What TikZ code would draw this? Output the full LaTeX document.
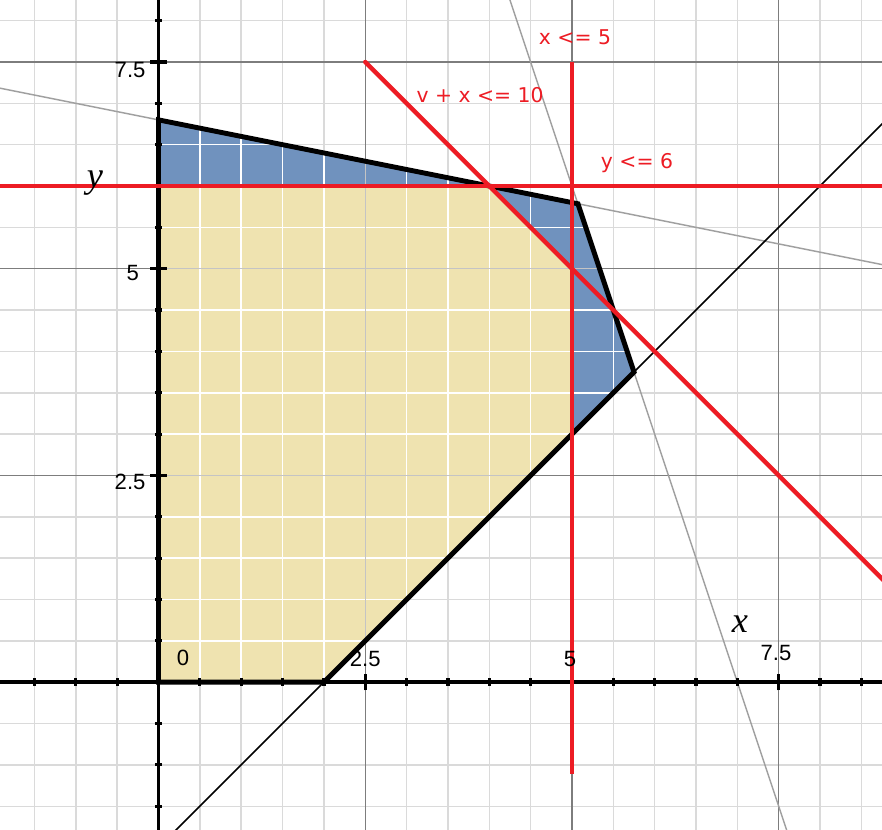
\documentclass[tikz,border=0pt]{standalone}
\usepackage{fontspec}
\newfontfamily\redfont{DejaVu Sans}
\newfontfamily\axfont{Liberation Sans}
\newfontfamily\varfont{Liberation Serif}
\definecolor{fillblue}{RGB}{112,146,190}
\definecolor{fillyellow}{RGB}{239,227,176}
\definecolor{redline}{RGB}{237,28,36}
\definecolor{minorgrid}{RGB}{218,218,218}
\definecolor{majorgrid}{RGB}{125,125,125}
\definecolor{grayline}{RGB}{160,160,160}
\tikzset{
  minorg/.style={minorgrid, line width=0.5pt},
  majorg/.style={majorgrid, line width=0.35pt},
  constraint/.style={redline, line width=1.5pt},
  guide/.style={grayline, line width=0.5pt},
  axisline/.style={black, line width=1.2pt},
  tickmark/.style={black, line width=1.1pt},
  region/.style={black, line width=1.7pt, line join=miter},
  redlabel/.style={text=redline, font=\redfont\fontsize{7}{8}\selectfont, inner sep=0pt},
  axlabel/.style={text=black, font=\axfont\fontsize{7.6}{8.5}\selectfont, inner sep=0pt},
  varlabel/.style={text=black, font=\varfont\itshape\fontsize{12.5}{14}\selectfont, inner sep=0pt}
}
\begin{document}
\begin{tikzpicture}[x=1cm,y=1cm]
\useasboundingbox (-1.917,-1.786) rectangle (8.749,8.250);
\clip (-1.917,-1.786) rectangle (8.749,8.250);
\fill[white] (-1.917,-1.786) rectangle (8.749,8.250);
% grid
\draw[minorg] (-2.5,-2.5) grid[step=0.5] (9.5,9);
\draw[majorg] (-2.5,-2.5) grid[step=2.5] (10,10);
% vertices
\coordinate (O) at (0,0);
\coordinate (A) at (2,0);
\coordinate (B) at (5.75,3.75);
\coordinate (C) at (5.0714,5.7857);
\coordinate (D) at (0,6.8);
\coordinate (Y1) at (5,3);
\coordinate (Y2) at (5,5);
\coordinate (Y3) at (4,6);
\coordinate (Y4) at (0,6);
% fills
\fill[fillblue] (O)--(A)--(B)--(C)--(D)--cycle;
\fill[fillyellow] (O)--(A)--(Y1)--(Y2)--(Y3)--(Y4)--cycle;
\begin{scope}
  \clip (O)--(A)--(B)--(C)--(D)--cycle;
  \draw[white, line width=0.5pt] (-2.5,-2.5) grid[step=0.5] (9.5,9);
  \draw[majorg, opacity=0.45] (-2.5,-2.5) grid[step=2.5] (10,10);
\end{scope}
% guide lines
\coordinate (g1a) at (-2.5,7.3);
\coordinate (g1b) at (9.5,4.9);
\coordinate (g2a) at (4.0833,8.75);
\coordinate (g2b) at (7.75,-2.25);
\coordinate (l1a) at (-0.5,-2.5);
\coordinate (l1b) at (9.5,7.5);
\draw[guide] (g1a) -- (g1b);
\draw[guide] (g2a) -- (g2b);
\draw[black, line width=0.55pt] (l1a) -- (l1b);
% axes
\coordinate (xl) at (-2.5,0);
\coordinate (xr) at (9.5,0);
\coordinate (yb) at (0,-2.5);
\coordinate (yt) at (0,9);
\draw[axisline] (xl) -- (xr);
\draw[axisline] (yb) -- (yt);
\foreach \t in {-1.5,-1,-0.5,0.5,1,1.5,2,3,3.5,4,4.5,5.5,6,6.5,7,8,8.5}{
  \draw[tickmark] (\t,-0.045) -- (\t,0.045);
}
\foreach \t in {2.5,5,7.5}{
  \draw[tickmark] (\t,-0.1) -- (\t,0.1);
}
\foreach \t in {-1.5,-1,-0.5,0.5,1,1.5,2,3,3.5,4,4.5,5.5,6,6.5,7,8}{
  \draw[tickmark] (-0.045,\t) -- (0.045,\t);
}
\foreach \t in {2.5,5,7.5}{
  \draw[tickmark] (-0.1,\t) -- (0.1,\t);
}
% feasible region border
\draw[region] (O)--(A)--(B)--(C)--(D)--cycle;
% constraints
\coordinate (h1) at (-2.5,6);
\coordinate (h2) at (9.5,6);
\coordinate (v1) at (5,7.5);
\coordinate (v2) at (5,-1.11);
\coordinate (d1) at (2.5,7.5);
\coordinate (d2) at (9.5,0.5);
\draw[constraint] (h1) -- (h2);
\draw[constraint] (v1) -- (v2);
\draw[constraint, line cap=round] (d1) -- (d2);
% labels
\node[redlabel] (lx5) at (5.036,7.803) {x <= 5};
\node[redlabel] (lvx) at (3.888,7.102) {v + x <= 10};
\node[redlabel] (ly6) at (5.786,6.28) {y <= 6};
\node[axlabel, anchor=east] (ty75) at (-0.151,7.40) {7.5};
\node[axlabel, anchor=east] (ty5) at (-0.23,4.95) {5};
\node[axlabel, anchor=east] (ty25) at (-0.151,2.42) {2.5};
\node[axlabel] (t0) at (0.296,0.29) {0};
\node[axlabel] (tx25) at (2.5,0.285) {2.5};
\node[axlabel] (tx5) at (4.976,0.285) {5};
\node[axlabel] (tx75) at (7.467,0.35) {7.5};
\node[varlabel] (vy) at (-0.768,6.03) {y};
\node[varlabel] (vx) at (7.03,0.70) {x};
\end{tikzpicture}
\end{document}
